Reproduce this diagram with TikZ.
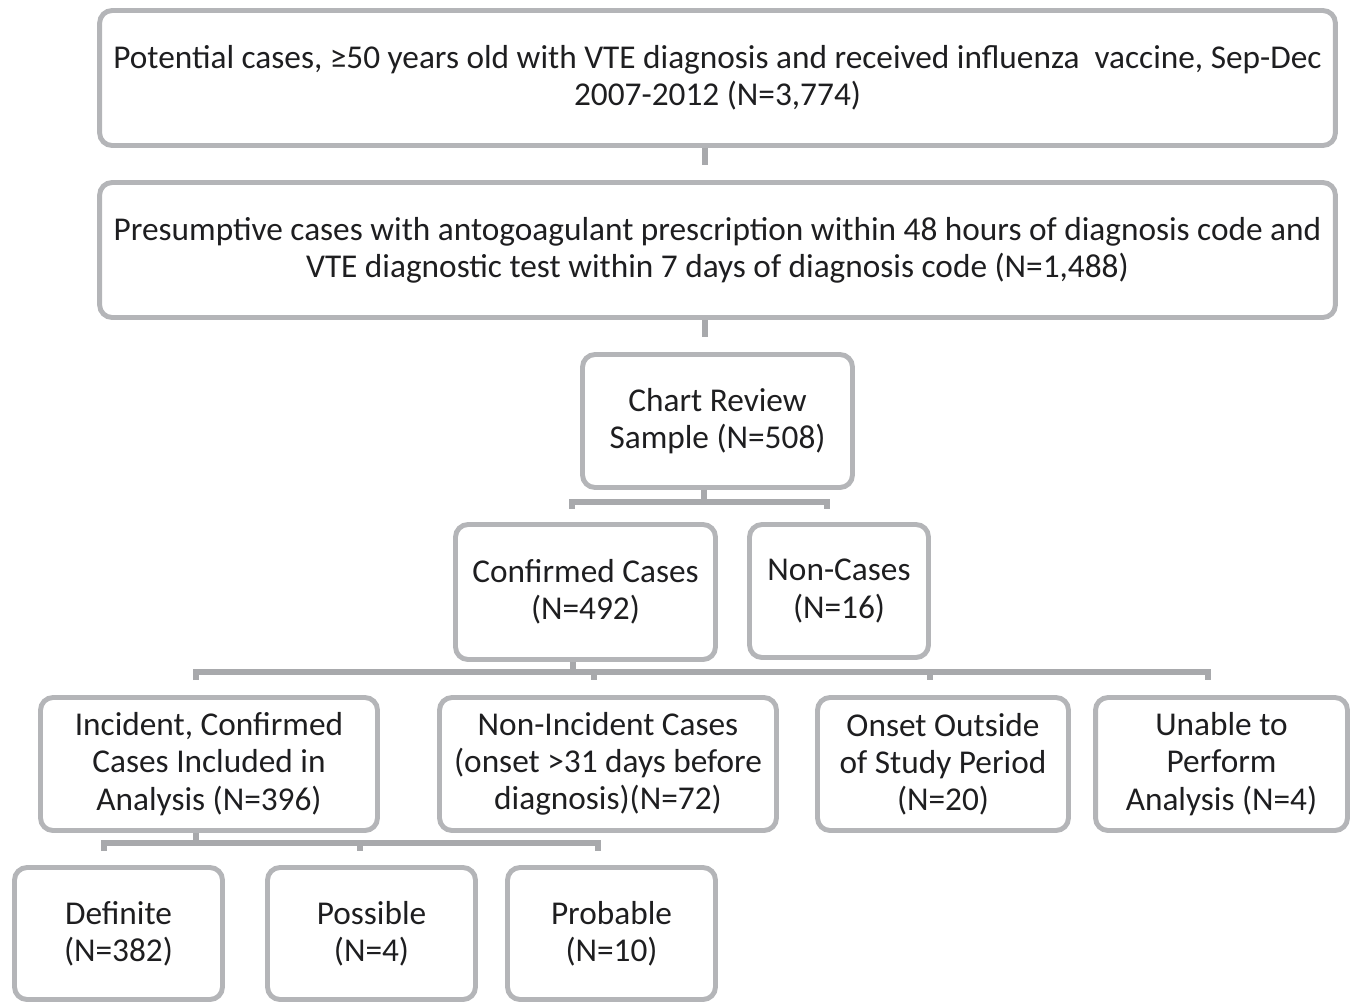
\documentclass[tikz,border=0pt]{standalone}
\usepackage{fontspec}
\setmainfont{Carlito}
\usepackage{tikz}
\usetikzlibrary{positioning}
\definecolor{boxgray}{RGB}{180,181,184}
\definecolor{linkgray}{RGB}{168,169,172}
\definecolor{textgray}{RGB}{30,30,32}
\tikzstyle{box} = [draw=boxgray, line width=2.8pt, rounded corners=0.25cm, align=center, text=textgray, font=\fontsize{18.95}{21.2}\selectfont, inner sep=0pt]
\tikzstyle{link} = [draw=linkgray, line width=3.3pt]

\begin{document}
\begin{tikzpicture}[transform shape,scale=1,x=0.02cm,y=-0.02cm]
	\useasboundingbox (0,0) rectangle (1355,1005);
	\node (potential) [box, minimum width=24.72cm, minimum height=2.7cm] at (717.5,78) {Potential cases, ≥50 years old with VTE diagnosis and received influenza\ \ vaccine, Sep-Dec\\2007-2012 (N=3,774)};
	\node (presumptive) [box, minimum width=24.72cm, minimum height=2.7cm] at (717.5,250) {Presumptive cases with antogoagulant prescription within 48 hours of diagnosis code and\\VTE diagnostic test within 7 days of diagnosis code (N=1,488)};
	\node (chart) [box, minimum width=5.4cm, minimum height=2.66cm] at (717.5,421) {Chart Review\\Sample (N=508)};
	\node (confirmed) [box, minimum width=5.2cm, minimum height=2.7cm] at (585.5,592) {Confirmed Cases\\(N=492)};
	\node (noncases) [box, minimum width=3.58cm, minimum height=2.66cm] at (839,591) {Non-Cases\\(N=16)};
	\node (incident) [box, minimum width=6.74cm, minimum height=2.66cm] at (209,764) {Incident, Confirmed\\Cases Included in\\Analysis (N=396)};
	\node (nonincident) [box, minimum width=6.74cm, minimum height=2.66cm] at (608,764) {Non-Incident Cases\\(onset >31 days before\\diagnosis)(N=72)};
	\node (outside) [box, minimum width=5.02cm, minimum height=2.66cm] at (943,764) {Onset Outside\\of Study Period\\(N=20)};
	\node (unable) [box, minimum width=5.04cm, minimum height=2.66cm] at (1221.5,764) {Unable to\\Perform\\Analysis (N=4)};
	\node (definite) [box, minimum width=4.16cm, minimum height=2.64cm] at (118.5,933.5) {Definite\\(N=382)};
	\node (possible) [box, minimum width=4.16cm, minimum height=2.64cm] at (371.5,933.5) {Possible\\(N=4)};
	\node (probable) [box, minimum width=4.16cm, minimum height=2.64cm] at (611.5,933.5) {Probable\\(N=10)};

	\coordinate (s1) at (705,165);
	\draw [link] (s1 |- potential.south) -- (s1);
	\coordinate (s2) at (705,337);
	\draw [link] (s2 |- presumptive.south) -- (s2);

	\coordinate (b1) at (704,502);
	\coordinate (b1l) at (572,509);
	\coordinate (b1r) at (827,509);
	\draw [link] (b1 |- chart.south) -- (b1);
	\draw [link] (b1l) -- (b1l |- b1) -- (b1r |- b1) -- (b1r);

	\coordinate (b2) at (573,672);
	\draw [link] (b2 |- confirmed.south) -- (b2);
	\foreach \name/\x in {b2a/196,b2b/594,b2c/930,b2d/1208}
	\coordinate (\name) at (\x,680);
	\draw [link] (b2a) -- (b2a |- b2) -- (b2d |- b2) -- (b2d);
	\draw [link] (b2b |- b2) -- (b2b);
	\draw [link] (b2c |- b2) -- (b2c);

	\coordinate (b3) at (196,843);
	\draw [link] (b3 |- incident.south) -- (b3);
	\foreach \name/\x in {b3a/104,b3b/360,b3c/598}
	\coordinate (\name) at (\x,851);
	\draw [link] (b3a) -- (b3a |- b3) -- (b3c |- b3) -- (b3c);
	\draw [link] (b3b |- b3) -- (b3b);
\end{tikzpicture}
\end{document}
